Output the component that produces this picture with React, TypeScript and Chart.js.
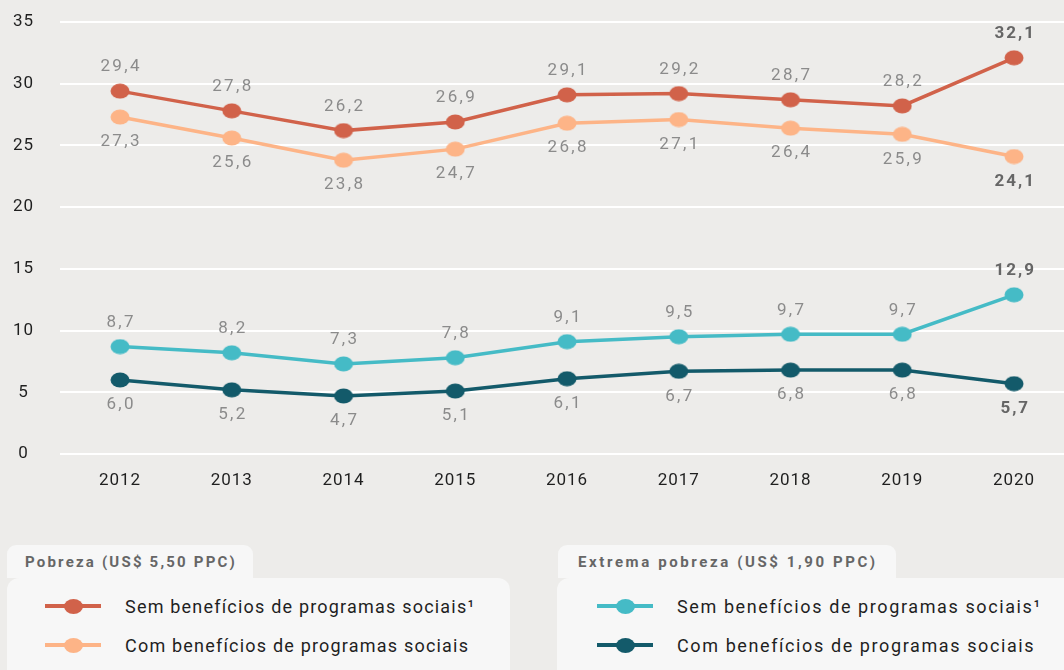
import React, { useEffect, useRef } from "react";
import { Chart, registerables } from "chart.js";

Chart.register(...registerables);

const years = [2012, 2013, 2014, 2015, 2016, 2017, 2018, 2019, 2020];
const pobrezaSem = [29.4, 27.8, 26.2, 26.9, 29.1, 29.2, 28.7, 28.2, 32.1];
const pobrezaCom = [27.3, 25.6, 23.8, 24.7, 26.8, 27.1, 26.4, 25.9, 24.1];
const extremaSem = [8.7, 8.2, 7.3, 7.8, 9.1, 9.5, 9.7, 9.7, 12.9];
const extremaCom = [6.0, 5.2, 4.7, 5.1, 6.1, 6.7, 6.8, 6.8, 5.7];
const yTicks = [0, 5, 10, 15, 20, 25, 30, 35];

const seriesNames = [
  "Sem benefícios de programas sociais¹",
  "Com benefícios de programas sociais",
];
const groupTitles = ["Pobreza (US$ 5,50 PPC)", "Extrema pobreza (US$ 1,90 PPC)"];

const C_RED = "#d1624a";
const C_ORANGE = "#fdb487";
const C_CYAN = "#45bbc6";
const C_TEAL = "#135a6a";
const BG = "#edecea";
const BOX = "#f7f7f7";

function ellipse(color: string) {
  const c = document.createElement("canvas");
  c.width = 20;
  c.height = 16;
  const ctx = c.getContext("2d")!;
  ctx.fillStyle = color;
  ctx.beginPath();
  ctx.ellipse(10, 8, 9.5, 7.5, 0, 0, Math.PI * 2);
  ctx.fill();
  return c;
}

const fmt = (v: number) => v.toFixed(1).replace(".", ",");

const labelPlugin = {
  id: "pointLabels",
  afterDatasetsDraw(chart: any) {
    const ctx = chart.ctx;
    chart.data.datasets.forEach((ds: any, i: number) => {
      const meta = chart.getDatasetMeta(i);
      meta.data.forEach((pt: any, j: number) => {
        const v = ds.data[j].y;
        const last = j === meta.data.length - 1;
        ctx.save();
        ctx.font = `${last ? "bold " : ""}17px Roboto`;
        (ctx as any).letterSpacing = last ? "2px" : "2.4px";
        ctx.fillStyle = last ? "#666666" : "#8b8b8b";
        ctx.textAlign = "center";
        ctx.textBaseline = "middle";
        const y = ds.labelPos === "above" ? pt.y - 24 : pt.y + 25;
        ctx.fillText(fmt(v), pt.x + 1.2, y);
        ctx.restore();
      });
    });
  },
};

const spacingPlugin = {
  id: "spacing",
  beforeDraw(chart: any) {
    (chart.ctx as any).letterSpacing = "1px";
  },
  afterDraw(chart: any) {
    (chart.ctx as any).letterSpacing = "0px";
  },
};

function LegendItem({ color, text, top, left, ls }: { color: string; text: string; top: number; left: number; ls: number }) {
  return (
    <div style={{ position: "absolute", top: top - 12, left, height: 24, display: "flex", alignItems: "center" }}>
      <div style={{ position: "relative", width: 56, height: 24 }}>
        <div style={{ position: "absolute", left: 0, top: 10, width: 56, height: 4, background: color }} />
        <div
          style={{
            position: "absolute",
            left: 28 - 9.5,
            top: 12 - 7.5,
            width: 19,
            height: 15,
            borderRadius: "50%",
            background: color,
          }}
        />
      </div>
      <div
        style={{
          marginLeft: 24,
          fontFamily: "Roboto, sans-serif",
          fontSize: 18,
          letterSpacing: `${ls}px`,
          color: "#1f1f1f",
          whiteSpace: "nowrap",
        }}
      >
        {text}
      </div>
    </div>
  );
}

function Header({ text, left, width, ls, pad }: { text: string; left: number; width: number; ls: number; pad: number }) {
  return (
    <div
      style={{
        position: "absolute",
        left,
        top: 545,
        width,
        height: 33,
        background: BOX,
        borderRadius: "9px 9px 0 0",
        display: "flex",
        alignItems: "center",
        paddingLeft: pad,
        boxSizing: "border-box",
        fontFamily: "Roboto, sans-serif",
        fontWeight: 700,
        fontSize: 15,
        letterSpacing: `${ls}px`,
        color: "#666",
        whiteSpace: "nowrap",
      }}
    >
      {text}
    </div>
  );
}

export default function App() {
  const ref = useRef<HTMLCanvasElement | null>(null);

  useEffect(() => {
    if (!ref.current) return;
    const mk = (vals: number[]) => years.map((y, i) => ({ x: y, y: vals[i] }));
    const ds = (label: string, vals: number[], color: string, pos: string) => ({
      label,
      data: mk(vals),
      borderColor: color,
      backgroundColor: color,
      borderWidth: 3.5,
      pointStyle: ellipse(color),
      pointRadius: 9,
      tension: 0,
      clip: false,
      labelPos: pos,
    });
    const chart = new Chart(ref.current, {
      type: "line",
      data: {
        datasets: [
          ds(seriesNames[0], pobrezaSem, C_RED, "above"),
          ds(seriesNames[1], pobrezaCom, C_ORANGE, "below"),
          ds(seriesNames[0], extremaSem, C_CYAN, "above"),
          ds(seriesNames[1], extremaCom, C_TEAL, "below"),
        ] as any,
      },
      options: {
        animation: false,
        responsive: false,
        maintainAspectRatio: false,
        layout: { autoPadding: false, padding: { top: 22, left: 0, right: 0, bottom: 0 } },
        plugins: { legend: { display: false }, tooltip: { enabled: false } },
        scales: {
          x: {
            type: "linear",
            min: 2011.463,
            max: 2020.447,
            grid: { display: false },
            border: { display: false },
            afterFit: (s: any) => {
              s.height = 46;
              s.paddingLeft = 0;
              s.paddingRight = 0;
            },
            afterBuildTicks: (s: any) => {
              s.ticks = years.map((v) => ({ value: v }));
            },
            ticks: {
              autoSkip: false,
              maxRotation: 0,
              padding: 9,
              color: "#1f1f1f",
              font: { family: "Roboto", size: 17 },
              callback: (v: any) => String(v),
            },
          },
          y: {
            min: 0,
            max: 35,
            afterFit: (s: any) => {
              s.width = 60;
              s.paddingTop = 10;
              s.paddingBottom = 10;
            },
            afterBuildTicks: (s: any) => {
              s.ticks = yTicks.map((v) => ({ value: v }));
            },
            grid: { color: "#ffffff", lineWidth: 2, drawTicks: false },
            border: { display: false },
            ticks: {
              crossAlign: "center",
              padding: 27,
              color: "#1f1f1f",
              font: { family: "Roboto", size: 17 },
            },
          },
        },
      } as any,
      plugins: [spacingPlugin, labelPlugin],
    });
    return () => chart.destroy();
  }, []);

  return (
    <div style={{ position: "fixed", left: 0, top: 0, width: 1064, height: 670, background: BG, overflow: "hidden" }}>
      <canvas ref={ref} width={1064} height={500} style={{ position: "absolute", left: 0, top: 0, width: 1064, height: 500 }} />
      <Header text={groupTitles[0]} left={7} width={246} ls={2.2} pad={18} />
      <Header text={groupTitles[1]} left={558} width={338} ls={2.6} pad={20} />
      <div style={{ position: "absolute", left: 7, top: 578, width: 503, height: 110, background: BOX, borderRadius: 12 }} />
      <div style={{ position: "absolute", left: 557, top: 578, width: 530, height: 110, background: BOX, borderRadius: 12 }} />
      <LegendItem color={C_RED} text={seriesNames[0]} top={606} left={45} ls={1.2} />
      <LegendItem color={C_ORANGE} text={seriesNames[1]} top={645} left={45} ls={1.2} />
      <LegendItem color={C_CYAN} text={seriesNames[0]} top={606} left={597} ls={1.6} />
      <LegendItem color={C_TEAL} text={seriesNames[1]} top={645} left={597} ls={1.6} />
    </div>
  );
}
